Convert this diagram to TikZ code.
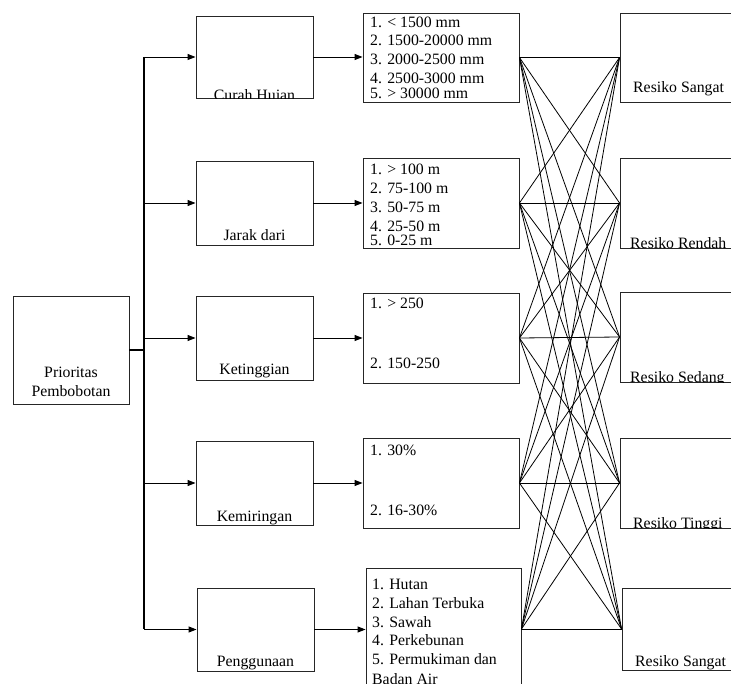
\documentclass[tikz,border=0pt]{standalone}
\usepackage{fontspec}
\setmainfont{Liberation Serif}
\usetikzlibrary{arrows.meta}
\begin{document}
\begin{tikzpicture}[x=1pt,y=-1pt,
  box/.style={draw=black!85,line width=0.9pt,rectangle,inner sep=0pt},
  txt/.style={anchor=base west,inner sep=0pt,font=\fontsize{15.8}{19}\selectfont},
  ctxt/.style={anchor=base,inner sep=0pt,font=\fontsize{15.8}{19}\selectfont},
  conn/.style={line width=0.8pt},
  arr/.style={line width=0.9pt,-{Triangle[length=8pt,width=6pt]}}]
\useasboundingbox (0,0) rectangle (731,684);
\clip (0,0) rectangle (731,684);
% source box
\node[box,minimum width=116pt,minimum height=108pt] (P) at (71,350) {};
% criteria boxes
\node[box,minimum width=117pt,minimum height=82pt] (c1) at (254.5,57) {};
\node[box,minimum width=117pt,minimum height=84pt] (c2) at (254.5,203) {};
\node[box,minimum width=117pt,minimum height=84pt] (c3) at (254.5,338) {};
\node[box,minimum width=117pt,minimum height=84pt] (c4) at (254.5,483) {};
\node[box,minimum width=117pt,minimum height=83pt] (c5) at (255.5,629.5) {};
% class boxes
\node[box,minimum width=156pt,minimum height=89pt] (m1) at (441,57.5) {};
\node[box,minimum width=156pt,minimum height=90pt] (m2) at (441,203) {};
\node[box,minimum width=156pt,minimum height=90pt] (m3) at (441,338) {};
\node[box,minimum width=156pt,minimum height=90pt] (m4) at (441,483) {};
\node[box,minimum width=155pt,minimum height=122pt] (m5) at (443.5,629) {};
% risk boxes
\node[box,minimum width=118pt,minimum height=89pt] (r1) at (679,57.5) {};
\node[box,minimum width=118pt,minimum height=90pt] (r2) at (679,203) {};
\node[box,minimum width=118pt,minimum height=90pt] (r3) at (679,337) {};
\node[box,minimum width=118pt,minimum height=90pt] (r4) at (679,483) {};
\node[box,minimum width=118pt,minimum height=82pt] (r5) at (681,629) {};
% bus
\coordinate (busT) at (144,57);
\coordinate (busB) at (144,629);
\draw[line width=1.2pt] (busT) -- (busB);
\draw[line width=1.8pt] (P.east) -- (P.east -| busT);
\foreach \c in {c1,c2,c3,c4,c5}{
  \draw[arr] (busT |- \c.west) -- (\c.west);
}
\foreach \i in {1,...,5}{
  \draw[arr] (c\i.east) -- (m\i.west |- c\i.east);
}
% full bipartite connections
\foreach \i in {1,...,5}{
  \foreach \j in {1,...,5}{
    \draw[conn] (m\i.east) -- (r\j.west);
  }
}
% texts
\node[ctxt] (tP1) at (71,378) {Prioritas};
\node[ctxt] (tP2) at (71,397) {Pembobotan};
\begin{scope}
\clip (c1.south west) rectangle (c1.north east);
\node[ctxt] (tc1) at (254.5,101) {Curah Hujan};
\end{scope}
\node[ctxt] (tc2) at (254.5,241) {Jarak dari};
\node[ctxt] (tc3) at (254.5,375) {Ketinggian};
\node[ctxt] (tc4) at (254.5,521) {Kemiringan};
\node[ctxt] (tc5) at (255.5,666) {Penggunaan};
% class texts
\node[txt] (a1) at (370,27.3) {1. < 1500 mm};
\node[txt] (a2) at (370,46) {2. 1500-20000 mm};
\node[txt] (a3) at (370,65) {3. 2000-2500 mm};
\node[txt] (a4) at (370,84) {4. 2500-3000 mm};
\node[txt] (a5) at (370,98.5) {5. > 30000 mm};
\node[txt] (b1) at (370,175) {1. > 100 m};
\node[txt] (b2) at (370,193.5) {2. 75-100 m};
\node[txt] (b3) at (370,213) {3. 50-75 m};
\node[txt] (b4) at (370,232) {4. 25-50 m};
\node[txt] (b5) at (370,245.5) {5. 0-25 m};
\node[txt] (d1) at (370,308.5) {1. > 250};
\node[txt] (d2) at (370,368.5) {2. 150-250};
\node[txt] (e1) at (370,455) {1. 30\%};
\node[txt] (e2) at (370,515) {2. 16-30\%};
\node[txt] (f1) at (372,589) {1. Hutan};
\node[txt] (f2) at (372,608) {2. Lahan Terbuka};
\node[txt] (f3) at (372,627) {3. Sawah};
\node[txt] (f4) at (372,645.5) {4. Perkebunan};
\node[txt] (f5) at (372,664.5) {5. Permukiman dan};
\node[txt] (f6) at (372,684) {Badan Air};
% risk texts
\node[txt] (g1) at (633,93) {Resiko Sangat};
\begin{scope}
\clip (r2.south west) rectangle (r2.north east);
\node[txt] (g2) at (630,248.5) {Resiko Rendah};
\end{scope}
\begin{scope}
\clip (r3.south west) rectangle (r3.north east);
\node[txt] (g3) at (630,383) {Resiko Sedang};
\end{scope}
\begin{scope}
\clip (r4.south west) rectangle (r4.north east);
\node[txt] (g4) at (633,528.5) {Resiko Tinggi};
\end{scope}
\node[txt] (g5) at (635,666) {Resiko Sangat};
\end{tikzpicture}
\end{document}
